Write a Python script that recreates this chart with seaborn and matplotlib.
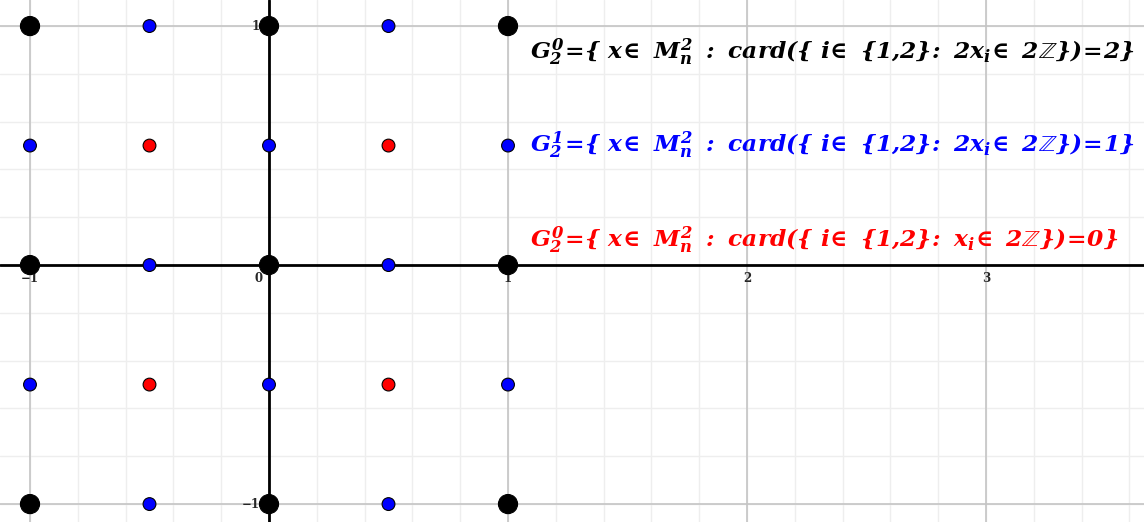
import matplotlib
matplotlib.use("Agg")
import matplotlib.pyplot as plt
import numpy as np
import pandas as pd
import seaborn as sns

# lattice points of M_2^2 in [-1,1]^2, grouped by how many coords are integers
px = [-1, 0, 1, -1, 0, 1, -1, 0, 1,
      -0.5, 0.5, -1, 0, 1, -0.5, 0.5, -1, 0, 1, -0.5, 0.5,
      -0.5, 0.5, -0.5, 0.5]
py = [1, 1, 1, 0, 0, 0, -1, -1, -1,
      1, 1, 0.5, 0.5, 0.5, 0, 0, -0.5, -0.5, -0.5, -1, -1,
      0.5, 0.5, -0.5, -0.5]
group = ["G0"] * 9 + ["G1"] * 12 + ["G2"] * 4

xticks = [-1, 0, 1, 2, 3]
yticks = [-1, 1]

labels = [
    r"$G_2^0\!=\!\{\ x\!\in\ M_n^2\ :\ card(\{\ i\!\in\ \{1{,}2\}\!:\ 2x_i\!\in\ 2\mathbb{Z}\})\!=\!2\}$",
    r"$G_2^1\!=\!\{\ x\!\in\ M_n^2\ :\ card(\{\ i\!\in\ \{1{,}2\}\!:\ 2x_i\!\in\ 2\mathbb{Z}\})\!=\!1\}$",
    r"$G_2^0\!=\!\{\ x\!\in\ M_n^2\ :\ card(\{\ i\!\in\ \{1{,}2\}\!:\ x_i\!\in\ 2\mathbb{Z}\})\!=\!0\}$",
]
label_y = [0.89, 0.50, 0.105]
label_colors = ["black", "blue", "red"]

df = pd.DataFrame({"x": px, "y": py, "group": group})

sns.set_style("white")
plt.rcParams["mathtext.fontset"] = "custom"
plt.rcParams["mathtext.it"] = "DejaVu Serif:italic:bold"
plt.rcParams["mathtext.rm"] = "DejaVu Serif:italic:bold"
plt.rcParams["mathtext.bf"] = "DejaVu Serif:bold"

fig = plt.figure(figsize=(11.44, 5.22), dpi=100)
ax = fig.add_axes([0, 0, 1, 1])
ax.set_xlim(-1.1255, 3.661)
ax.set_ylim(-1.075, 1.109)

# grid: minor every 0.2, major every 1
for v in np.arange(-1.0, 3.7, 0.2):
    ax.axvline(v, color="#eeeeee", lw=1, zorder=0)
for v in np.arange(-1.0, 1.2, 0.2):
    ax.axhline(v, color="#eeeeee", lw=1, zorder=0)
for v in xticks:
    ax.axvline(v, color="#c4c4c4", lw=1.2, zorder=0.5)
for v in yticks:
    ax.axhline(v, color="#c4c4c4", lw=1.2, zorder=0.5)
ax.axhline(0, color="black", lw=2, zorder=1)
ax.axvline(0, color="black", lw=2, zorder=1)

sns.scatterplot(data=df, x="x", y="y", hue="group", size="group",
                palette={"G0": "black", "G1": "blue", "G2": "red"},
                sizes={"G0": 190, "G1": 85, "G2": 85},
                edgecolor="black", linewidth=0.8, legend=False, zorder=3, ax=ax)

for t in xticks:
    lab = "\u22121" if t < 0 else str(t)
    dx = -0.045 if t == 0 else 0
    ax.text(t + dx, -0.055, lab, ha="center", va="center", fontsize=8.5,
            fontweight="bold", family="DejaVu Serif", zorder=2)
for t in yticks:
    lab = "\u22121" if t < 0 else str(t)
    ax.text(-0.038, t, lab, ha="right", va="center", fontsize=8.5,
            fontweight="bold", family="DejaVu Serif", zorder=2)

for lab, yy, c in zip(labels, label_y, label_colors):
    ax.text(1.09, yy, lab, color=c, fontsize=16.8, ha="left", va="center", zorder=4)

ax.set_xticks([])
ax.set_yticks([])
ax.set_xlabel("")
ax.set_ylabel("")
for s in ax.spines.values():
    s.set_visible(False)

fig.savefig("out.png", dpi=100)
